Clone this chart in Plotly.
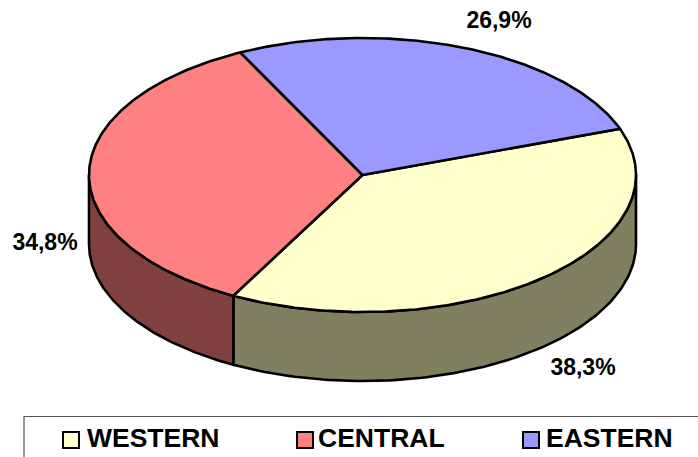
import numpy as np
import plotly.graph_objects as go

categories = ["WESTERN", "CENTRAL", "EASTERN"]
shares = [38.3, 34.8, 26.9]
share_labels = ["38,3%", "34,8%", "26,9%"]
top_colors = ["#FFFFCC", "#FF8080", "#9999FF"]
side_colors = ["#808060", "#804040", "#505080"]

W, H = 698, 457
CX, CY, RX, RY, DEPTH = 362.5, 175, 273.5, 137, 69
START_DEG = 19.7
INK = "#000000"
FONT = "Liberation Sans, Arial, sans-serif"


def pt(a):
    r = np.radians(a)
    return CX + RX * np.cos(r), CY - RY * np.sin(r)


fig = go.Figure()
bounds = START_DEG - np.concatenate([[0], np.cumsum(shares)]) * 3.6

# extruded rim: only the part facing the viewer (angles from 0 down to -180)
for i in range(len(shares)):
    hi, lo = min(bounds[i], 0), max(bounds[i + 1], -180)
    if hi <= lo:
        continue
    a = np.linspace(hi, lo, 120)
    x, y = pt(a)
    fig.add_trace(go.Scatter(
        x=np.r_[x, x[::-1], x[0]], y=np.r_[y, y[::-1] + DEPTH, y[0]],
        mode="lines", fill="toself", fillcolor=side_colors[i],
        line=dict(color=INK, width=2.6), hoverinfo="skip", showlegend=False))

# top face wedges
for i, c in enumerate(categories):
    a = np.linspace(bounds[i], bounds[i + 1], 240)
    x, y = pt(a)
    fig.add_trace(go.Scatter(
        x=np.r_[CX, x, CX], y=np.r_[CY, y, CY],
        mode="lines", fill="toself", fillcolor=top_colors[i],
        line=dict(color=INK, width=2.6), name=c, hoverinfo="name", showlegend=False))

# value labels
label_x = [583, 45, 499]
label_y = [369, 244, 22]
fig.add_trace(go.Scatter(
    x=label_x, y=label_y, mode="text", text=share_labels,
    textposition="middle center",
    textfont=dict(family=FONT, size=23, color=INK, weight="bold"),
    hoverinfo="skip", showlegend=False))

# legend
leg_x = [71, 305, 531]
leg_text_x = [87, 318, 546]
leg_y = [440, 440, 440]
fig.add_trace(go.Scatter(
    x=leg_x, y=leg_y, mode="markers",
    marker=dict(symbol="square", size=16, color=top_colors, line=dict(color=INK, width=2)),
    hoverinfo="skip", showlegend=False))
fig.add_trace(go.Scatter(
    x=leg_text_x, y=leg_y, mode="text", text=categories,
    textposition="middle right",
    textfont=dict(family=FONT, size=26.5, color=INK, weight="bold"),
    hoverinfo="skip", showlegend=False, cliponaxis=False))

fig.add_shape(type="rect", x0=24, x1=720, y0=416.5, y1=480,
              line=dict(color="#555555", width=1.2), layer="below")

fig.update_xaxes(range=[0, W], visible=False, fixedrange=True)
fig.update_yaxes(range=[H, 0], visible=False, fixedrange=True)
fig.update_layout(width=W, height=H, margin=dict(l=0, r=0, t=0, b=0),
                  paper_bgcolor="white", plot_bgcolor="white", showlegend=False)
fig.write_html("out.html", config=dict(displayModeBar=False),
               post_script="document.body.style.margin='0';document.body.style.overflow='hidden';")
